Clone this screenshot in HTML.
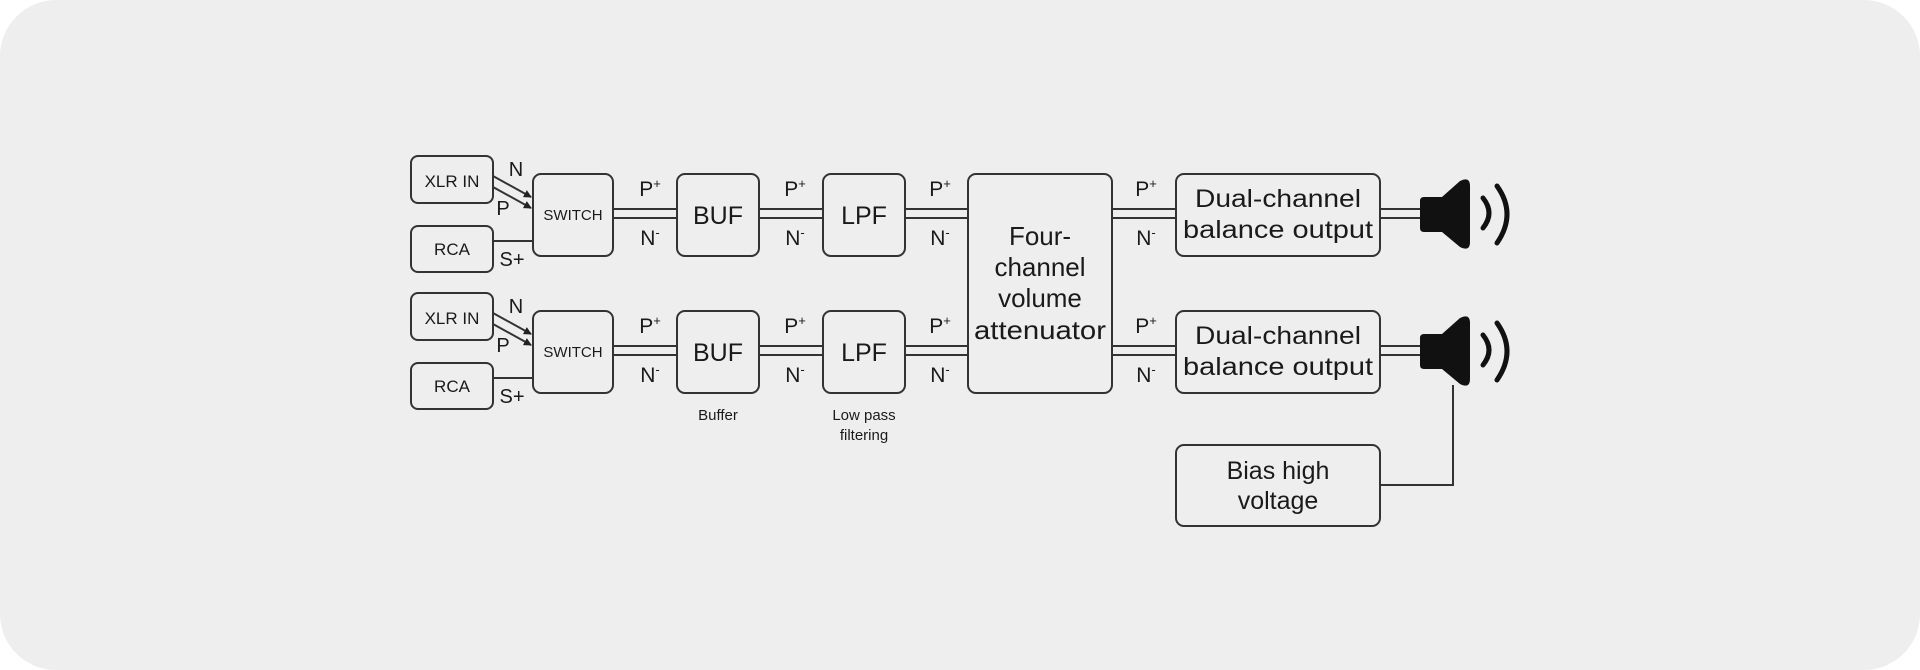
<!DOCTYPE html>
<html><head><meta charset="utf-8"><style>
html,body{margin:0;padding:0;background:#fff;}
svg{display:block;}
text{font-family:"Liberation Sans",sans-serif;fill:#1a1a1a;}
</style></head><body>
<svg width="1920" height="670" viewBox="0 0 1920 670" xmlns="http://www.w3.org/2000/svg">
<rect x="0" y="0" width="1920" height="670" rx="56" fill="#eeeeee"/>
<defs>
<marker id="ah" markerWidth="8" markerHeight="8" refX="7" refY="4" orient="auto" markerUnits="userSpaceOnUse"><path d="M0,0 L8,4 L0,8 z" fill="#222"/></marker>
<g id="row" stroke="#333" stroke-width="2" fill="none">
<rect x="411" y="156" width="82" height="47" rx="7"/>
<rect x="411" y="226" width="82" height="46" rx="7"/>
<rect x="533" y="174" width="80" height="82" rx="8"/>
<rect x="677" y="174" width="82" height="82" rx="8"/>
<rect x="823" y="174" width="82" height="82" rx="8"/>
<line x1="493" y1="176" x2="531" y2="197" marker-end="url(#ah)"/>
<line x1="493" y1="187" x2="531" y2="208" marker-end="url(#ah)"/>
<line x1="493" y1="241" x2="533" y2="241"/>
<line x1="613" y1="209" x2="677" y2="209"/><line x1="613" y1="218" x2="677" y2="218"/>
<line x1="759" y1="209" x2="823" y2="209"/><line x1="759" y1="218" x2="823" y2="218"/>
<line x1="905" y1="209" x2="968" y2="209"/><line x1="905" y1="218" x2="968" y2="218"/>
<line x1="1112" y1="209" x2="1176" y2="209"/><line x1="1112" y1="218" x2="1176" y2="218"/>
<rect x="1176" y="174" width="204" height="82" rx="8"/>
<line x1="1380" y1="209" x2="1424" y2="209"/><line x1="1380" y1="218" x2="1424" y2="218"/>
</g>
<g id="rowt">
<text x="452" y="187" font-size="17" text-anchor="middle">XLR IN</text>
<text x="452" y="255" font-size="17" text-anchor="middle">RCA</text>
<text x="573" y="220" font-size="15" text-anchor="middle">SWITCH</text>
<text x="718" y="224" font-size="25" text-anchor="middle">BUF</text>
<text x="864" y="224" font-size="25" text-anchor="middle">LPF</text>
<text x="516" y="176" font-size="20" text-anchor="middle">N</text>
<text x="503" y="215" font-size="20" text-anchor="middle">P</text>
<text x="512" y="266" font-size="20" text-anchor="middle">S+</text>
<text x="650" y="196" font-size="21" text-anchor="middle">P<tspan font-size="13" dy="-8">+</tspan></text>
<text x="650" y="245" font-size="21" text-anchor="middle">N<tspan font-size="13" dy="-8">-</tspan></text>
<text x="795" y="196" font-size="21" text-anchor="middle">P<tspan font-size="13" dy="-8">+</tspan></text>
<text x="795" y="245" font-size="21" text-anchor="middle">N<tspan font-size="13" dy="-8">-</tspan></text>
<text x="940" y="196" font-size="21" text-anchor="middle">P<tspan font-size="13" dy="-8">+</tspan></text>
<text x="940" y="245" font-size="21" text-anchor="middle">N<tspan font-size="13" dy="-8">-</tspan></text>
<text x="1146" y="196" font-size="21" text-anchor="middle">P<tspan font-size="13" dy="-8">+</tspan></text>
<text x="1146" y="245" font-size="21" text-anchor="middle">N<tspan font-size="13" dy="-8">-</tspan></text>
<text x="1278" y="207" font-size="25" text-anchor="middle" textLength="166" lengthAdjust="spacingAndGlyphs">Dual-channel</text>
<text x="1278" y="238" font-size="25" text-anchor="middle" textLength="190" lengthAdjust="spacingAndGlyphs">balance output</text>
</g>
<g id="spk">
<path d="M1424,197 L1442,197 L1460,181 Q1470,176 1470,186 L1470,242 Q1470,252 1460,247 L1442,232 L1424,232 Q1420,232 1420,228 L1420,201 Q1420,197 1424,197 z" fill="#111"/>
<path d="M1483,198 Q1495,213 1483,228" stroke="#111" stroke-width="5" fill="none" stroke-linecap="round"/>
<path d="M1497,186 Q1517,214 1497,243" stroke="#111" stroke-width="5" fill="none" stroke-linecap="round"/>
</g>
</defs>
<use href="#row"/><use href="#rowt"/><use href="#spk"/>
<g transform="translate(0,137)"><use href="#row"/><use href="#rowt"/><use href="#spk"/></g>
<g stroke="#333" stroke-width="2" fill="none">
<rect x="968" y="174" width="144" height="219" rx="8"/>
<rect x="1176" y="445" width="204" height="81" rx="8"/>
<polyline points="1453,385 1453,485 1380,485"/>
</g>
<text x="1040" y="245" font-size="26" text-anchor="middle">Four-</text>
<text x="1040" y="276" font-size="26" text-anchor="middle">channel</text>
<text x="1040" y="307" font-size="26" text-anchor="middle">volume</text>
<text x="1040" y="339" font-size="26" text-anchor="middle" textLength="132" lengthAdjust="spacingAndGlyphs">attenuator</text>
<text x="1278" y="479" font-size="25" text-anchor="middle">Bias high</text>
<text x="1278" y="509" font-size="25" text-anchor="middle">voltage</text>
<text x="718" y="420" font-size="15" text-anchor="middle">Buffer</text>
<text x="864" y="420" font-size="15" text-anchor="middle">Low pass</text>
<text x="864" y="440" font-size="15" text-anchor="middle">filtering</text>
</svg>
</body></html>
